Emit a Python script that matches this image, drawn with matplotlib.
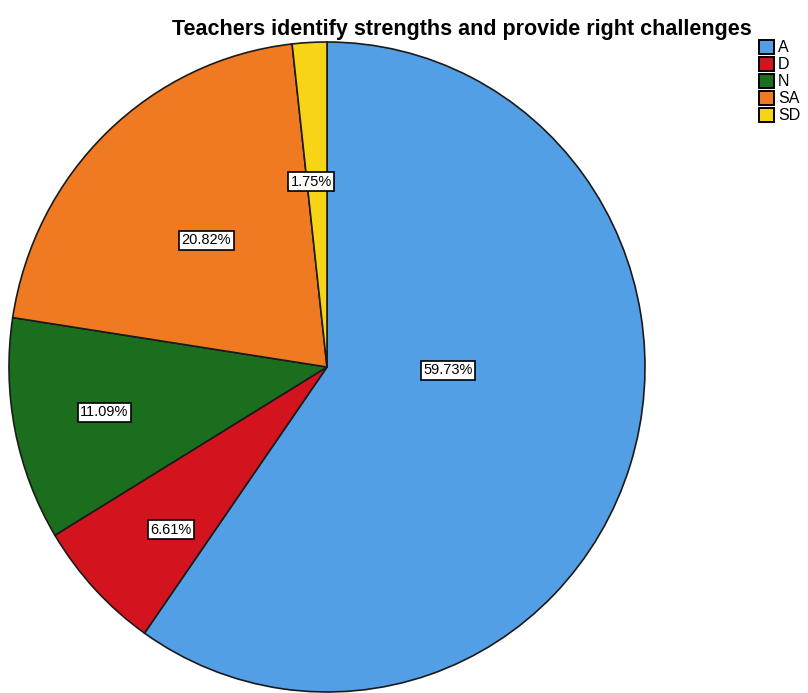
import matplotlib
matplotlib.use("Agg")
import matplotlib.pyplot as plt
from matplotlib.patches import Patch

categories = ["A", "D", "N", "SA", "SD"]
percentages = [59.73, 6.61, 11.09, 20.82, 1.75]
pct_labels = ["59.73%", "6.61%", "11.09%", "20.82%", "1.75%"]
colors = ["#539fe6", "#d3141f", "#1b6e1d", "#f07a22", "#f7d516"]
# label box positions (in pie radius units, relative to centre)
label_pos = [(0.38, -0.01), (-0.49, -0.50), (-0.70, -0.14), (-0.38, 0.39), (-0.05, 0.57)]

plt.rcParams['font.family'] = ['Liberation Sans', 'DejaVu Sans']

fig = plt.figure(figsize=(8.08, 6.93), dpi=100)
ax = fig.add_axes([9 / 808, 1 / 693, 636 / 808, 650 / 693])
wedges, _ = ax.pie(percentages, colors=colors, startangle=90, counterclock=False,
                   wedgeprops=dict(edgecolor="#1a1a1a", linewidth=1.2))
ax.set_aspect('auto')
ax.set_xlim(-1.0, 1.0)
ax.set_ylim(-1.0, 1.0)

for txt, (x, y) in zip(pct_labels, label_pos):
    ax.text(x, y, txt, ha='center', va='center', fontsize=10.5, color='black',
            bbox=dict(boxstyle='square,pad=0.18', facecolor='white', edgecolor='black', linewidth=1.2))

fig.text(462 / 808, 1 - 29 / 693, "Teachers identify strengths and provide right challenges",
         ha='center', va='center', fontsize=15.5, fontweight='bold')

handles = [Patch(facecolor=c, edgecolor='black', linewidth=1.4, label=l) for c, l in zip(colors, categories)]
fig.legend(handles=handles, loc='upper left', bbox_to_anchor=(759 / 808, 1 - 40 / 693),
           frameon=False, fontsize=11.5, handlelength=0.95, handleheight=0.95,
           handletextpad=0.25, labelspacing=0.1, borderaxespad=0, borderpad=0)

fig.savefig("out.png", dpi=100)
